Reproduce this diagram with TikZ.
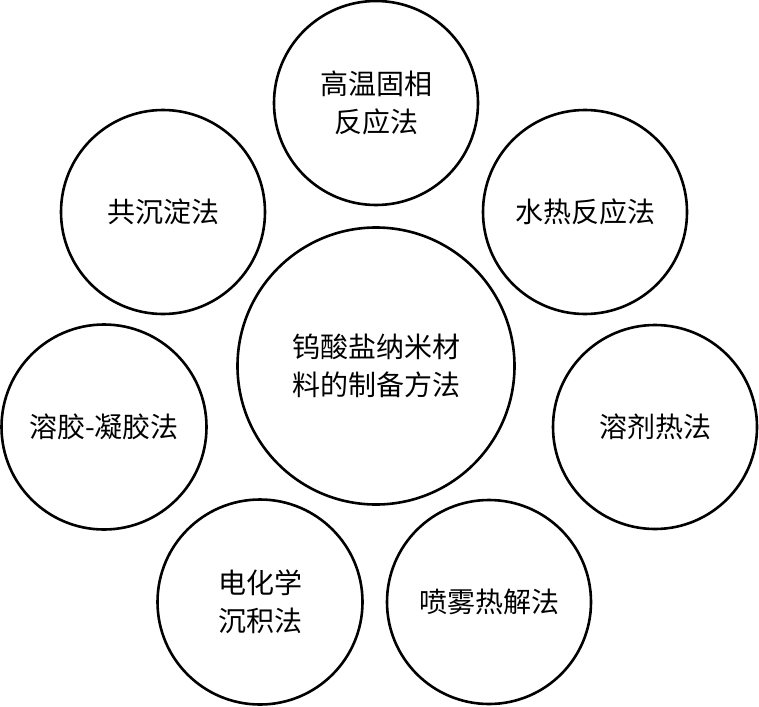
\documentclass[tikz,border=0pt]{standalone}
\usepackage{fontspec}
\newfontfamily\cjk{Noto Sans CJK SC}
\begin{document}
\begin{tikzpicture}[x=1pt,y=-1pt,
  meth/.style={draw=black,line width=2.6pt,circle,inner sep=0pt,align=center,
    font=\cjk\fontsize{28}{38}\selectfont}]
\useasboundingbox (0,0) rectangle (759,706);
\node[meth,minimum size=277pt] (c) at (376,366) {钨酸盐纳米材\\料的制备方法};
\node[meth,minimum size=204pt] (t) at (376,103) {高温固相\\反应法};
\node[meth,minimum size=204pt] (ul) at (163,212) {共沉淀法};
\node[meth,minimum size=204pt] (ur) at (585,212) {水热反应法};
\node[meth,minimum size=205pt] (l) at (104,427) {溶胶-凝胶法};
\node[meth,minimum size=204pt] (r) at (655,427) {溶剂热法};
\node[meth,minimum size=205pt] (bl) at (260,602) {电化学\\沉积法};
\node[meth,minimum size=204pt] (br) at (489,602) {喷雾热解法};
\end{tikzpicture}
\end{document}
